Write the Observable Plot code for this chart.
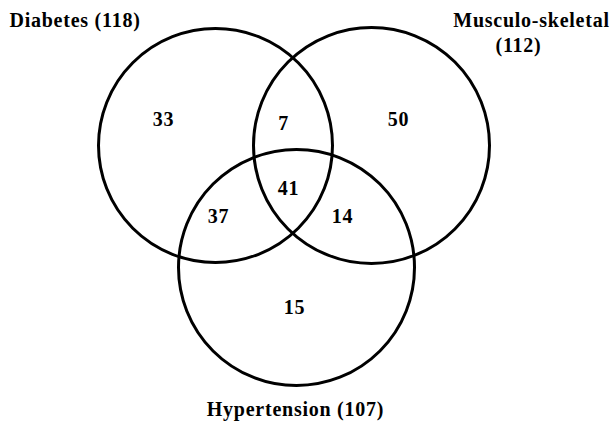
<!DOCTYPE html>
<html><head><meta charset="utf-8">
<script src="https://cdn.jsdelivr.net/npm/d3@7"></script>
<script src="https://cdn.jsdelivr.net/npm/@observablehq/plot@0.6"></script>
<style>body{margin:0;background:#fff}</style>
</head><body><div id="chart"></div>
<script>
// Data
const setNames = ["Diabetes", "Musculo-skeletal", "Hypertension"];
const setTotals = [118, 112, 107];
const regionNames = ["Diabetes only", "Diabetes & Musculo-skeletal", "Musculo-skeletal only",
  "Diabetes & Hypertension", "All three", "Musculo-skeletal & Hypertension", "Hypertension only"];
const regionCounts = [33, 7, 50, 37, 41, 14, 15];

// Layout (pixel geometry of the diagram)
const circleX = [215, 371, 296];
const circleY = [145, 145, 267];
const circleR = [117, 118, 118];
const regionX = [163, 283, 398, 218, 288, 342, 294];
const regionY = [119, 123, 119, 216, 188, 216, 307];

const circles = setNames.map((s, i) => ({name: s, x: circleX[i], y: circleY[i], r: circleR[i]}));
const regions = regionNames.map((s, i) => ({name: s, count: regionCounts[i], x: regionX[i], y: regionY[i]}));

const font = {fontFamily: "Liberation Serif", fontWeight: "bold", fontSize: 20, fill: "black"};

const plot = Plot.plot({
  width: 611,
  height: 423,
  margin: 0,
  x: {type: "identity", axis: null},
  y: {type: "identity", axis: null},
  r: {type: "identity"},
  style: {fontFamily: "Liberation Serif", background: "white", letterSpacing: "0.75px"},
  marks: [
    Plot.dot(circles, {x: "x", y: "y", r: "r", stroke: "black", strokeWidth: 3, fill: "none"}),
    Plot.text(regions, {x: "x", y: "y", text: d => String(d.count), ...font}),
    Plot.text([`${setNames[0]} (${setTotals[0]})`], {x: 9, y: 19.6, text: d => d, textAnchor: "start", ...font}),
    Plot.text([setNames[1]], {x: 531, y: 19.6, text: d => d, ...font}),
    Plot.text([`(${setTotals[1]})`], {x: 518, y: 44.6, text: d => d, ...font}),
    Plot.text([`${setNames[2]} (${setTotals[2]})`], {x: 295, y: 408.6, text: d => d, ...font})
  ]
});
document.getElementById("chart").appendChild(plot);
</script>
</body></html>
